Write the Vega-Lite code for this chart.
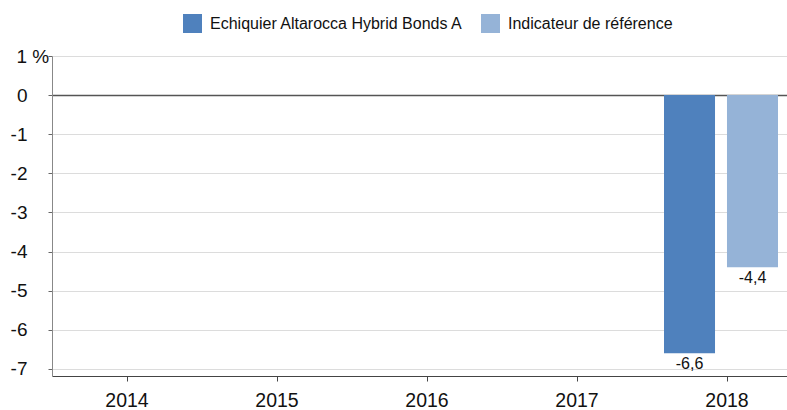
{
  "$schema": "https://vega.github.io/schema/vega-lite/v6.json",
  "autosize": {"type": "none"},
  "padding": {"left": 52, "top": 56, "right": 0, "bottom": 34},
  "width": 735,
  "height": 320,
  "background": "white",
  "config": {
    "font": "Liberation Sans",
    "view": {"stroke": null},
    "locale": {
      "number": {"decimal": ",", "thousands": " ", "grouping": [3], "currency": ["", " €"], "minus": "-"}
    }
  },
  "data": {
    "values": [
      {"year": "2018", "series": "Echiquier Altarocca Hybrid Bonds A", "value": -6.6},
      {"year": "2018", "series": "Indicateur de référence", "value": -4.4}
    ]
  },
  "encoding": {
    "x": {
      "field": "year", "type": "nominal",
      "scale": {"domain": ["2014", "2015", "2016", "2017", "2018"], "range": [0, 750], "paddingInner": 0, "paddingOuter": 0},
      "axis": {
        "title": null, "labelAngle": 0, "labelFontSize": 19.5, "labelColor": "#111",
        "domainColor": "#444", "tickColor": "#444", "tickSize": 5, "labelPadding": 10,
        "grid": false
      }
    },
    "xOffset": {
      "field": "series", "type": "nominal",
      "scale": {"domain": ["Echiquier Altarocca Hybrid Bonds A", "Indicateur de référence"], "range": [12, 126], "paddingInner": 0.19, "paddingOuter": 0}
    },
    "y": {
      "field": "value", "type": "quantitative",
      "scale": {"domain": [-7.18, 1], "nice": false, "zero": false},
      "axis": {
        "title": null, "values": [1, 0, -1, -2, -3, -4, -5, -6, -7],
        "labelExpr": "datum.value == 1 ? '1 %' : datum.label",
        "format": "d",
        "labelFontSize": 19, "labelColor": "#111",
        "labelAlign": {"condition": {"test": "datum.value == 1", "value": "left"}, "value": "right"},
        "labelPadding": {"condition": {"test": "datum.value == 1", "value": 32}, "value": 21},
        "labelBaseline": "middle",
        "domainColor": "#888", "tickColor": "#666", "tickSize": 4,
        "grid": true,
        "gridColor": {"condition": {"test": "datum.value == 0", "value": "#555"}, "value": "#dcdcdc"},
        "gridWidth": {"condition": {"test": "datum.value == 0", "value": 1.5}, "value": 1}
      }
    }
  },
  "layer": [
    {
      "mark": {"type": "bar"},
      "encoding": {
        "fill": {
          "field": "series", "type": "nominal",
          "scale": {"domain": ["Echiquier Altarocca Hybrid Bonds A", "Indicateur de référence"], "range": ["#4f81bd", "#95b3d7"]},
          "legend": {
            "title": null, "orient": "none", "direction": "horizontal",
            "legendX": 131, "legendY": -42,
            "symbolType": "square", "symbolSize": 361, "symbolStrokeWidth": 0,
            "labelFontSize": 16, "labelColor": "#111", "labelOffset": 8,
            "columnPadding": 17, "labelLimit": 400
          }
        }
      }
    },
    {
      "mark": {"type": "text", "baseline": "top", "dy": 3, "fontSize": 16, "color": "#111"},
      "encoding": {
        "text": {"field": "value", "type": "quantitative", "format": ".1f"}
      }
    }
  ]
}
